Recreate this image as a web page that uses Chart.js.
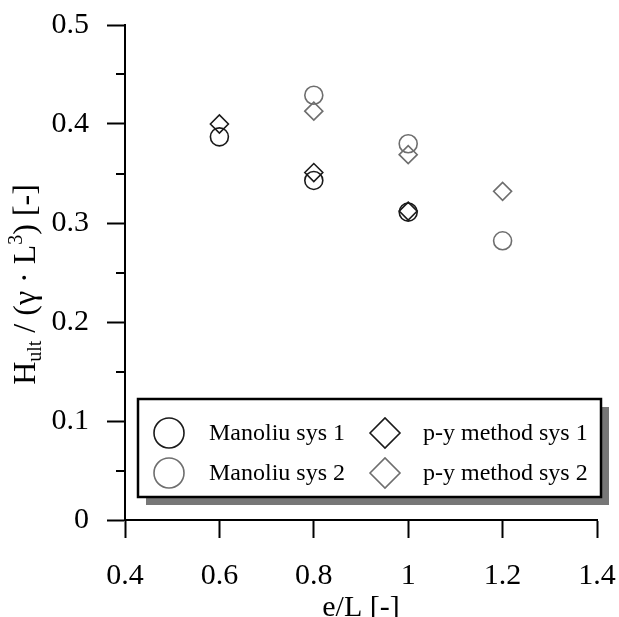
<!DOCTYPE html>
<html lang="en">
<head>
    <meta charset="UTF-8">
    <title>Ultimate lateral load vs. eccentricity</title>
    <style>
        html, body {
            margin: 0;
            padding: 0;
            background: #fff;
            overflow: hidden;
        }
        #loadChart {
            display: block;
        }
    </style>
</head>
<body>

<canvas id="loadChart" width="619" height="617"></canvas>

<script src="https://cdn.jsdelivr.net/npm/chart.js"></script>
<script>
    // e/L positions of each series
    const eLSys1 = [0.6, 0.8, 1.0];
    const eLSys2 = [0.8, 1.0, 1.2];

    // H_ult / (gamma * L^3)
    const manoliuSys1 = [0.387, 0.343, 0.311];
    const manoliuSys2 = [0.429, 0.380, 0.282];
    const pySys1 = [0.400, 0.351, 0.312];
    const pySys2 = [0.413, 0.369, 0.332];

    const seriesLabels = ['Manoliu sys 1', 'Manoliu sys 2', 'p-y method sys 1', 'p-y method sys 2'];

    const xTicks = [0.4, 0.6, 0.8, 1.0, 1.2, 1.4];
    const yTicks = [0, 0.1, 0.2, 0.3, 0.4, 0.5];

    const SERIF = "'Liberation Serif', 'Times New Roman', serif";
    const DARK = '#1a1a1a';
    const GREY = '#6e6e6e';

    function toPoints(xs, ys) {
        return xs.map((x, i) => ({ x: x, y: ys[i] }));
    }

    function series(label, xs, ys, style, color) {
        return {
            label: label,
            data: toPoints(xs, ys),
            pointStyle: style,
            pointRadius: 9,
            pointHoverRadius: 9,
            pointBorderWidth: 1.6,
            borderColor: color,
            backgroundColor: 'rgba(0,0,0,0)',
            showLine: false
        };
    }

    // the plot area is set by layout.padding alone
    function noEdgePadding(s) {
        s.paddingLeft = 0;
        s.paddingRight = 0;
        s.paddingTop = 0;
        s.paddingBottom = 0;
    }

    // half-step ticks on the y axis
    const minorTicks = {
        id: 'minorTicks',
        afterDraw(chart) {
            const y = chart.scales.y;
            const ctx = chart.ctx;
            ctx.save();
            ctx.strokeStyle = '#000';
            ctx.lineWidth = 2;
            for (let i = 0; i < yTicks.length - 1; i++) {
                const py = Math.round(y.getPixelForValue((yTicks[i] + yTicks[i + 1]) / 2));
                ctx.beginPath();
                ctx.moveTo(y.right - 9, py);
                ctx.lineTo(y.right, py);
                ctx.stroke();
            }
            ctx.restore();
        }
    };

    // rotated y title with subscript and superscript
    const yTitle = {
        id: 'yTitle',
        afterDraw(chart, args, opts) {
            const ctx = chart.ctx;
            const big = '32px ' + SERIF;
            const small = '20px ' + SERIF;
            const parts = [
                { t: 'H', f: big, dy: 0 },
                { t: 'ult', f: small, dy: 6 },
                { t: ' / (\u03B3 \u00B7 L', f: big, dy: 0 },
                { t: '3', f: small, dy: -13 },
                { t: ') [-]', f: big, dy: 0 }
            ];
            ctx.save();
            let total = 0;
            parts.forEach(p => { ctx.font = p.f; p.w = ctx.measureText(p.t).width; total += p.w; });
            const area = chart.chartArea;
            ctx.translate(opts.x, (area.top + area.bottom) / 2 + opts.shift);
            ctx.rotate(-Math.PI / 2);
            ctx.fillStyle = '#000';
            ctx.textBaseline = 'alphabetic';
            let cx = -total / 2;
            parts.forEach(p => {
                ctx.font = p.f;
                ctx.fillText(p.t, cx, 10 + p.dy);
                cx += p.w;
            });
            ctx.restore();
        }
    };

    // boxed legend with drop shadow inside the plot
    const boxLegend = {
        id: 'boxLegend',
        afterDraw(chart, args, opts) {
            const ctx = chart.ctx;
            const b = opts.box;
            ctx.save();
            ctx.fillStyle = '#777';
            ctx.fillRect(b.left + 8, b.top + 8, b.right - b.left, b.bottom - b.top);
            ctx.fillStyle = '#fff';
            ctx.fillRect(b.left, b.top, b.right - b.left, b.bottom - b.top);
            ctx.strokeStyle = '#000';
            ctx.lineWidth = 2.5;
            ctx.strokeRect(b.left, b.top, b.right - b.left, b.bottom - b.top);

            ctx.font = opts.fontSize + 'px ' + SERIF;
            ctx.textBaseline = 'middle';
            chart.data.datasets.forEach((ds, i) => {
                const col = Math.floor(i / 2);
                const row = i % 2;
                const mx = opts.markerX[col];
                const my = opts.rowY[row];
                ctx.strokeStyle = ds.borderColor;
                ctx.fillStyle = 'rgba(0,0,0,0)';
                ctx.lineWidth = 1.6;
                Chart.helpers.drawPoint(ctx, {
                    pointStyle: ds.pointStyle,
                    radius: 15,
                    rotation: 0,
                    borderWidth: 1.6
                }, mx, my);
                ctx.fillStyle = '#000';
                ctx.fillText(ds.label, opts.textX[col], my + 1);
            });
            ctx.restore();
        }
    };

    const ctx = document.getElementById('loadChart').getContext('2d');
    new Chart(ctx, {
        type: 'scatter',
        data: {
            datasets: [
                series(seriesLabels[0], eLSys1, manoliuSys1, 'circle', DARK),
                series(seriesLabels[1], eLSys2, manoliuSys2, 'circle', GREY),
                series(seriesLabels[2], eLSys1, pySys1, 'rectRot', DARK),
                series(seriesLabels[3], eLSys2, pySys2, 'rectRot', GREY)
            ]
        },
        options: {
            responsive: false,
            animation: false,
            events: [],
            layout: {
                padding: { left: 0, top: 25, right: 22, bottom: 0 }
            },
            scales: {
                x: {
                    type: 'linear',
                    min: xTicks[0],
                    max: xTicks[xTicks.length - 1],
                    afterBuildTicks: s => { s.ticks = xTicks.map(v => ({ value: v })); },
                    afterFit: s => { s.height = 97; noEdgePadding(s); },
                    grid: {
                        drawOnChartArea: false,
                        tickLength: 18,
                        tickWidth: 2,
                        tickColor: '#000'
                    },
                    border: { display: true, color: '#000', width: 2 },
                    ticks: {
                        color: '#000',
                        padding: 20,
                        maxRotation: 0,
                        font: { family: SERIF, size: 30 },
                        callback: v => String(Math.round(v * 10) / 10)
                    },
                    title: {
                        display: true,
                        text: 'e/L [-]',
                        color: '#000',
                        font: { family: SERIF, size: 30, lineHeight: 1 },
                        padding: { top: 0, bottom: -6 }
                    }
                },
                y: {
                    type: 'linear',
                    min: yTicks[0],
                    max: yTicks[yTicks.length - 1],
                    afterBuildTicks: s => { s.ticks = yTicks.map(v => ({ value: v })); },
                    afterFit: s => { s.width = 125; noEdgePadding(s); },
                    grid: {
                        drawOnChartArea: false,
                        tickLength: 18,
                        tickWidth: 2,
                        tickColor: '#000'
                    },
                    border: { display: true, color: '#000', width: 2 },
                    ticks: {
                        color: '#000',
                        padding: 18,
                        font: { family: SERIF, size: 30 },
                        callback: v => String(Math.round(v * 10) / 10)
                    }
                }
            },
            plugins: {
                legend: { display: false },
                tooltip: { enabled: false },
                yTitle: { x: 25, shift: 12 },
                boxLegend: {
                    box: { left: 138, top: 399, right: 601, bottom: 497 },
                    markerX: [169, 385],
                    textX: [209, 423],
                    rowY: [433, 473],
                    fontSize: 24
                }
            }
        },
        plugins: [minorTicks, yTitle, boxLegend]
    });
</script>

</body>
</html>
